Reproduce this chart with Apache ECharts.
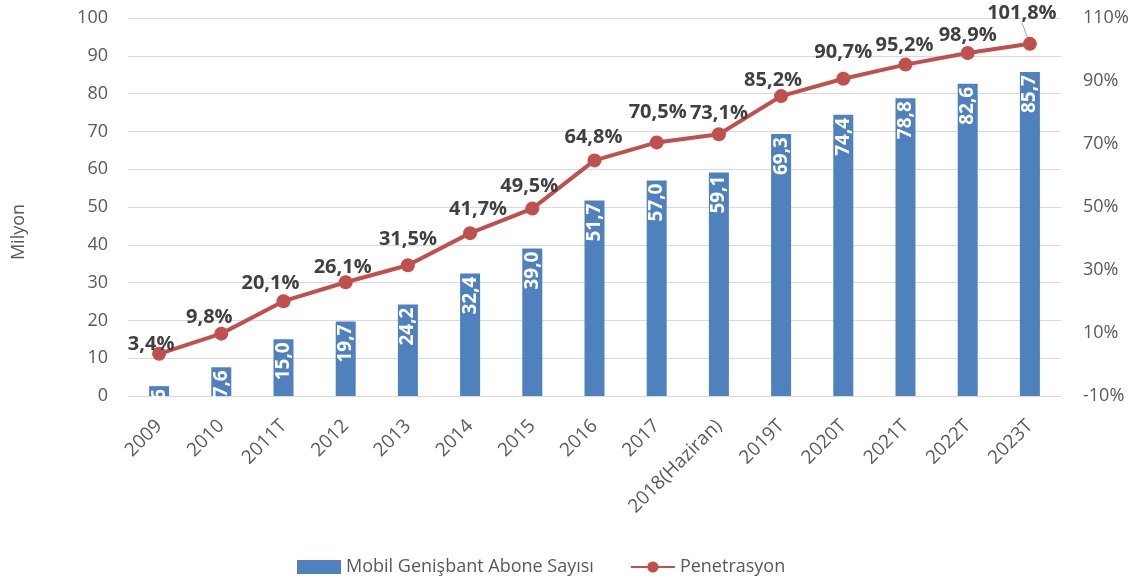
<!DOCTYPE html>
<html>
<head>
<meta charset="utf-8">
<script src="https://cdn.jsdelivr.net/npm/echarts@6/dist/echarts.min.js"></script>
<style>
  html, body { margin: 0; padding: 0; background: #fff; }
  #chart { width: 1146px; height: 586px; }
</style>
</head>
<body>
<div id="chart"></div>
<script>
const categories = ['2009', '2010', '2011T', '2012', '2013', '2014', '2015', '2016', '2017',
  '2018(Haziran)', '2019T', '2020T', '2021T', '2022T', '2023T'];
const subscribers = [2.6, 7.6, 15.0, 19.7, 24.2, 32.4, 39.0, 51.7, 57.0, 59.1, 69.3, 74.4, 78.8, 82.6, 85.7];
const penetration = [3.4, 9.8, 20.1, 26.1, 31.5, 41.7, 49.5, 64.8, 70.5, 73.1, 85.2, 90.7, 95.2, 98.9, 101.8];
const leftTicks = { min: 0, max: 100, interval: 10 };
const rightTicks = { min: -10, max: 110, interval: 20 };

// label offsets for the line, relative to each point
const lineLabelOffsets = [[-8, -9], [-12, -16], [-13, -18], [-3, -15], [0, -26], [8, -24],
  [-3, -22], [-1, -23], [1, -30], [0, -21], [-8, -16], [0, -26], [-1, -19], [0, -18], [-8, -31]];

const comma = (v) => v.toFixed(1).replace('.', ',');
const font = '"Open Sans", sans-serif';
const grey = '#595959';

const chart = echarts.init(document.getElementById('chart'));

chart.setOption({
  backgroundColor: '#fff',
  textStyle: { fontFamily: font },
  grid: { left: 128, right: 85, top: 18, bottom: 190 },
  legend: {
    bottom: 5,
    left: 292,
    itemGap: 36,
    itemWidth: 44,
    itemHeight: 14,
    textStyle: { color: grey, fontSize: 18, fontFamily: font },
    data: [
      { name: 'Mobil Genişbant Abone Sayısı', icon: 'rect' },
      { name: 'Penetrasyon' }
    ]
  },
  xAxis: {
    type: 'category',
    data: categories,
    axisTick: { show: false },
    axisLine: { lineStyle: { color: '#d9d9d9' } },
    axisLabel: { color: grey, fontSize: 19, rotate: 45, margin: 27, interval: 0 }
  },
  yAxis: [
    {
      type: 'value',
      min: leftTicks.min,
      max: leftTicks.max,
      interval: leftTicks.interval,
      name: 'Milyon',
      nameLocation: 'middle',
      nameGap: 100,
      nameTextStyle: { color: grey, fontSize: 18, padding: [0, 50, 0, 0] },
      axisLabel: { color: grey, fontSize: 18, margin: 20 },
      axisLine: { show: false },
      axisTick: { show: false },
      splitLine: { lineStyle: { color: '#d9d9d9' } }
    },
    {
      type: 'value',
      min: rightTicks.min,
      max: rightTicks.max,
      interval: rightTicks.interval,
      axisLabel: { color: grey, fontSize: 18, margin: 22, formatter: '{value}%' },
      axisLine: { show: false },
      axisTick: { show: false },
      splitLine: { show: false }
    }
  ],
  series: [
    {
      name: 'Mobil Genişbant Abone Sayısı',
      type: 'bar',
      data: subscribers,
      barWidth: 20,
      itemStyle: { color: '#4f81bd' },
      label: {
        show: true,
        position: 'insideTop',
        rotate: 90,
        align: 'right',
        verticalAlign: 'middle',
        distance: 3,
        color: '#fff',
        fontWeight: 'bold',
        fontSize: 19,
        formatter: (p) => comma(p.value)
      },
      z: 2
    },
    {
      name: 'Penetrasyon',
      type: 'line',
      yAxisIndex: 1,
      data: penetration.map((v, i) => ({
        value: v,
        label: { offset: lineLabelOffsets[i] },
        labelLine: i === penetration.length - 1
          ? { show: true, lineStyle: { color: '#a6a6a6', width: 1 } }
          : undefined
      })),
      symbol: 'circle',
      symbolSize: 14,
      lineStyle: { color: '#c0504d', width: 4 },
      itemStyle: { color: '#c0504d' },
      label: {
        show: true,
        position: 'inside',
        color: '#404040',
        fontWeight: 'bold',
        fontSize: 20,
        formatter: (p) => comma(p.value) + '%'
      },
      z: 3
    }
  ]
});
</script>
</body>
</html>
